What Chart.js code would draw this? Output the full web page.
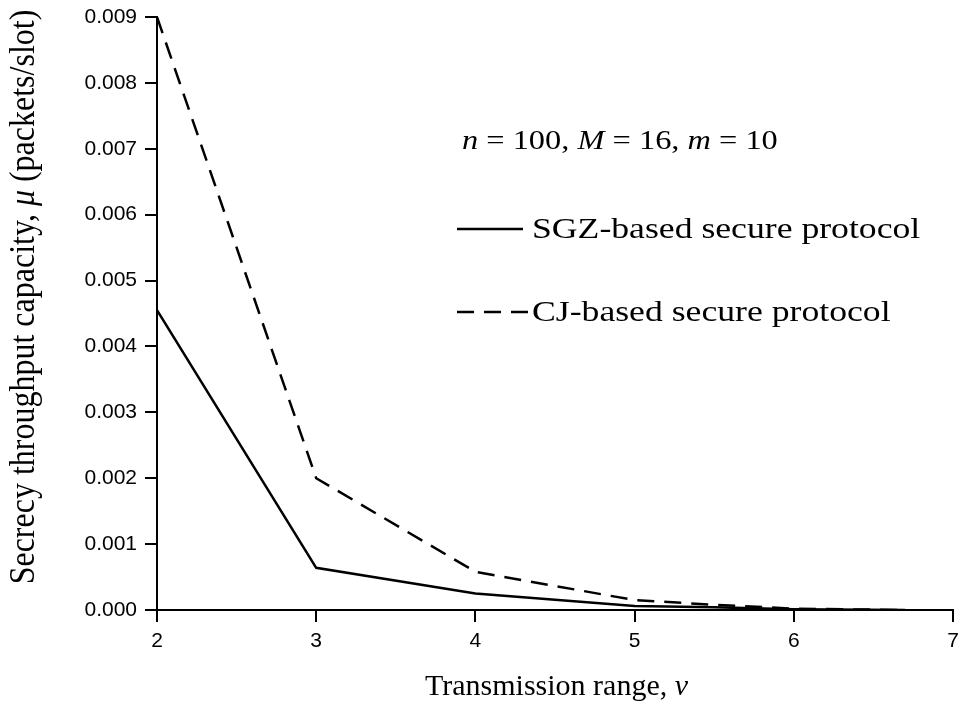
<!DOCTYPE html>
<html>
<head>
<meta charset="utf-8">
<script src="https://cdn.jsdelivr.net/npm/chart.js@4.4.1/dist/chart.umd.min.js"></script>
<style>
html,body{margin:0;padding:0;background:#fff;}
#wrap{width:960px;height:707px;position:relative;}
</style>
</head>
<body>
<div id="wrap"><canvas id="c" width="960" height="707"></canvas></div>
<script>
// ---- data ----
const transmissionRange = [2, 3, 4, 5, 5.5, 6, 6.7];
const sgzCapacity = [0.00455, 0.00064, 0.00025, 0.00006, 0.00004, 0.00001, 0.0];
const cjCapacity  = [0.0090, 0.0020, 0.00058, 0.00015, 0.00008, 0.00002, 0.0];
const seriesLabels = ['SGZ-based secure protocol', 'CJ-based secure protocol'];
const xTickValues = [2, 3, 4, 5, 6, 7];
const yTickValues = [0, 0.001, 0.002, 0.003, 0.004, 0.005, 0.006, 0.007, 0.008, 0.009];
const xTitleParts = [['Transmission range, ', false], ['v', true]];
const yTitleParts = [['Secrecy throughput capacity, ', false], ['\u03bc', true], [' (packets/slot)', false]];
const annotationParts = [['n', true], [' = 100, ', false], ['M', true], [' = 16, ', false], ['m', true], [' = 10', false]];

const toPts = (xs, ys) => xs.map((x, i) => ({x: x, y: ys[i]}));
const serif = "'Liberation Serif', 'Times New Roman', serif";
const sans = "'Liberation Sans', Arial, sans-serif";

function partsWidth(ctx, parts, size) {
  let w = 0;
  for (const [t, it] of parts) {
    ctx.font = (it ? 'italic ' : '') + size + 'px ' + serif;
    w += ctx.measureText(t).width;
  }
  return w;
}
function drawParts(ctx, parts, size, x, y) {
  for (const [t, it] of parts) {
    ctx.font = (it ? 'italic ' : '') + size + 'px ' + serif;
    ctx.fillText(t, x, y);
    x += ctx.measureText(t).width;
  }
}

const overlay = {
  id: 'overlay',
  afterDraw(chart) {
    const ctx = chart.ctx;
    const area = chart.chartArea;
    ctx.save();
    ctx.fillStyle = '#000';
    ctx.textBaseline = 'alphabetic';
    ctx.textAlign = 'left';

    // x axis title
    const xw = partsWidth(ctx, xTitleParts, 30);
    drawParts(ctx, xTitleParts, 30, (area.left + area.right) / 2 + 1.5 - xw / 2, 695);

    // y axis title (rotated)
    ctx.save();
    ctx.translate(34, 297);
    ctx.rotate(-Math.PI / 2);
    ctx.scale(1, 1.1);
    const yw = partsWidth(ctx, yTitleParts, 32);
    drawParts(ctx, yTitleParts, 32, -yw / 2, 0);
    ctx.restore();

    // annotation (horizontally stretched like the reference)
    ctx.save();
    ctx.translate(462, 149);
    ctx.scale(1.2, 1);
    drawParts(ctx, annotationParts, 27, 0, 0);
    ctx.restore();

    // legend
    const rows = [229, 312];
    chart.data.datasets.forEach((ds, i) => {
      const ly = rows[i];
      ctx.beginPath();
      ctx.strokeStyle = ds.borderColor;
      ctx.lineWidth = ds.borderWidth;
      ctx.setLineDash(ds.borderDash || []);
      ctx.moveTo(457, ly);
      ctx.lineTo(i === 0 ? 523 : 528, ly);
      ctx.stroke();
      ctx.setLineDash([]);
      ctx.save();
      ctx.translate(532, ly + 8.5);
      ctx.scale(1.23, 1);
      ctx.font = '29px ' + serif;
      ctx.fillText(ds.label, 0, 0);
      ctx.restore();
    });
    ctx.restore();
  }
};

new Chart(document.getElementById('c'), {
  type: 'line',
  data: {
    datasets: [
      {label: seriesLabels[0], data: toPts(transmissionRange, sgzCapacity), borderColor: '#000', borderWidth: 2.5, pointRadius: 0, tension: 0, fill: false},
      {label: seriesLabels[1], data: toPts(transmissionRange, cjCapacity), borderColor: '#000', borderWidth: 2.5, borderDash: [17, 10], pointRadius: 0, tension: 0, fill: false}
    ]
  },
  options: {
    responsive: false,
    animation: false,
    layout: {padding: {top: 17, right: 7, left: 0, bottom: 0}},
    plugins: {legend: {display: false}, tooltip: {enabled: false}},
    scales: {
      x: {
        type: 'linear', min: 2, max: 7,
        afterBuildTicks: s => { s.ticks = xTickValues.map(v => ({value: v})); },
        afterFit: s => { s.height = 97; s.paddingLeft = 0; s.paddingRight = 0; },
        border: {display: true, color: '#000', width: 2},
        grid: {drawOnChartArea: false, drawTicks: true, tickLength: 12, color: '#000', lineWidth: 2},
        ticks: {color: '#000', font: {family: sans, size: 21}, padding: 7, maxRotation: 0, callback: v => String(v)},
        title: {display: false}
      },
      y: {
        type: 'linear', min: 0, max: 0.009,
        afterBuildTicks: s => { s.ticks = yTickValues.map(v => ({value: v})); },
        afterFit: s => { s.width = 157; s.paddingTop = 0; s.paddingBottom = 0; },
        border: {display: true, color: '#000', width: 2},
        grid: {drawOnChartArea: false, drawTicks: true, tickLength: 12, color: '#000', lineWidth: 2},
        ticks: {color: '#000', font: {family: sans, size: 21}, padding: 8, callback: v => v.toFixed(3)},
        title: {display: false}
      }
    }
  },
  plugins: [overlay]
});
</script>
</body>
</html>
